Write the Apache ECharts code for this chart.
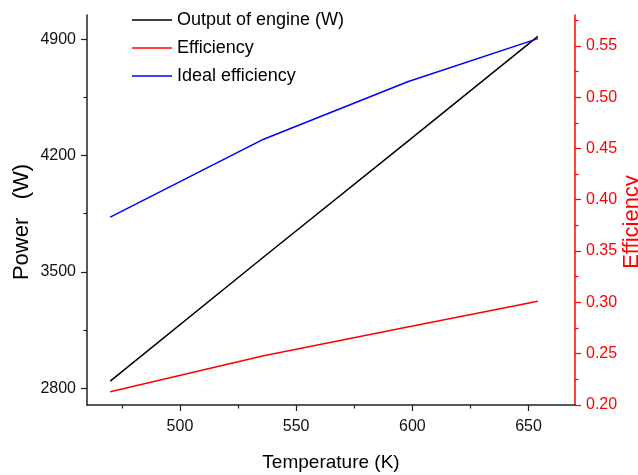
<!DOCTYPE html>
<html>
<head>
<meta charset="utf-8">
<script src="https://cdn.jsdelivr.net/npm/echarts@6/dist/echarts.min.js"></script>
<style>
  html, body { margin: 0; padding: 0; background: #fff; }
  #chart { width: 638px; height: 475px; }
</style>
</head>
<body>
<div id="chart"></div>
<script>
// data
var temps = [470, 536, 598, 654];
var outputPower = [2844, 3590, 4285, 4916];
var efficiency = [0.213, 0.248, 0.276, 0.301];
var idealEfficiency = [0.383, 0.459, 0.515, 0.557];

var xMajor = [500, 550, 600, 650];
var xMinor = [475, 525, 575, 625];
var powerMajor = [2800, 3500, 4200, 4900];
var powerMinor = [3150, 3850, 4550];
var effMajor = [0.20, 0.25, 0.30, 0.35, 0.40, 0.45, 0.50, 0.55];
var effMinor = [0.225, 0.275, 0.325, 0.375, 0.425, 0.475, 0.525, 0.575];

var font = 'Liberation Sans, Arial, sans-serif';

function pairs(xs, ys) {
  return xs.map(function (x, i) { return [x, ys[i]]; });
}

var chart = echarts.init(document.getElementById('chart'));

var xBase = { type: 'value', min: 460, max: 670, position: 'bottom', splitLine: { show: false } };
var powBase = { type: 'value', min: 2700, max: 5045, position: 'left', splitLine: { show: false } };
var effBase = { type: 'value', min: 0.2, max: 0.58, position: 'right', splitLine: { show: false } };

var option = {
  animation: false,
  grid: { left: 87, right: 63, top: 15, bottom: 70, containLabel: false, outerBoundsMode: 'none' },
  legend: {
    orient: 'vertical',
    left: 127,
    top: 6,
    icon: 'rect',
    itemWidth: 40,
    itemHeight: 1.5,
    itemGap: 10,
    selectedMode: false,
    textStyle: { fontFamily: font, fontSize: 18, color: '#000' },
    data: ['Output of engine (W)', 'Efficiency', 'Ideal efficiency']
  },
  xAxis: [
    Object.assign({}, xBase, {
      name: 'Temperature (K)',
      nameLocation: 'middle',
      nameGap: 48,
      nameMoveOverlap: false,
      nameTextStyle: { fontFamily: font, fontSize: 19, color: '#000' },
      axisLine: { lineStyle: { color: '#222', width: 1.5 } },
      axisTick: { customValues: xMajor, length: 6, lineStyle: { color: '#222', width: 1.2 } },
      axisLabel: { customValues: xMajor, margin: 14, fontFamily: font, fontSize: 16, color: '#111' }
    }),
    Object.assign({}, xBase, {
      axisLine: { show: false },
      axisTick: { customValues: xMinor, length: 3.5, lineStyle: { color: '#222', width: 1.2 } },
      axisLabel: { show: false }
    })
  ],
  yAxis: [
    Object.assign({}, powBase, {
      name: 'Power   (W)',
      nameLocation: 'middle',
      nameGap: 54,
      nameMoveOverlap: false,
      nameTextStyle: { fontFamily: font, fontSize: 22, color: '#000', padding: [0, 24, 0, 0] },
      axisLine: { show: true, lineStyle: { color: '#222', width: 1.5 } },
      axisTick: { customValues: powerMajor, length: 6, lineStyle: { color: '#222', width: 1.2 } },
      axisLabel: {
        customValues: powerMajor, margin: 11, fontFamily: font, fontSize: 16, color: '#111',
        formatter: function (v) { return String(v); }
      }
    }),
    Object.assign({}, effBase, {
      name: 'Efficiency',
      nameLocation: 'middle',
      nameGap: 46,
      nameMoveOverlap: false,
      nameTextStyle: { fontFamily: font, fontSize: 22, color: '#ff0000', padding: [0, 24, 0, 0] },
      axisLine: { show: true, lineStyle: { color: '#ff0000', width: 1.5 } },
      axisTick: { customValues: effMajor, length: 6, lineStyle: { color: '#ff0000', width: 1.2 } },
      axisLabel: {
        customValues: effMajor, margin: 11, fontFamily: font, fontSize: 16, color: '#ff0000',
        formatter: function (v) { return v.toFixed(2); }
      }
    }),
    Object.assign({}, powBase, {
      axisLine: { show: false },
      axisTick: { customValues: powerMinor, length: 3.5, lineStyle: { color: '#222', width: 1.2 } },
      axisLabel: { show: false }
    }),
    Object.assign({}, effBase, {
      axisLine: { show: false },
      axisTick: { customValues: effMinor, length: 3.5, lineStyle: { color: '#ff0000', width: 1.2 } },
      axisLabel: { show: false }
    })
  ],
  series: [
    {
      name: 'Output of engine (W)', type: 'line', xAxisIndex: 0, yAxisIndex: 0,
      symbol: 'none', lineStyle: { color: '#000', width: 1.5 }, itemStyle: { color: '#000' },
      data: pairs(temps, outputPower)
    },
    {
      name: 'Efficiency', type: 'line', xAxisIndex: 0, yAxisIndex: 1,
      symbol: 'none', lineStyle: { color: '#ff0000', width: 1.5 }, itemStyle: { color: '#ff0000' },
      data: pairs(temps, efficiency)
    },
    {
      name: 'Ideal efficiency', type: 'line', xAxisIndex: 0, yAxisIndex: 1,
      symbol: 'none', lineStyle: { color: '#0000ff', width: 1.5 }, itemStyle: { color: '#0000ff' },
      data: pairs(temps, idealEfficiency)
    }
  ]
};

chart.setOption(option);
</script>
</body>
</html>
